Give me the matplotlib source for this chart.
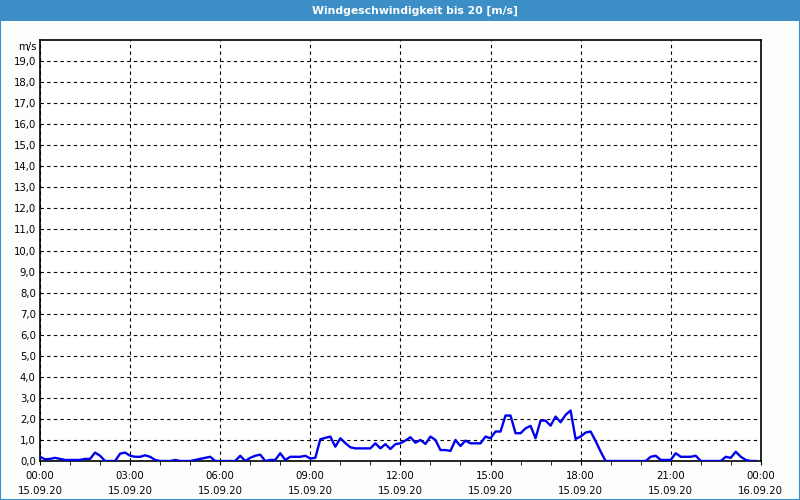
import matplotlib
matplotlib.use("Agg")
import matplotlib.pyplot as plt
import numpy as np
from matplotlib.patches import Rectangle

# wind speed every 10 minutes, 15.09.20 00:00 .. 23:50 (m/s)
wind = [0.2, 0.08, 0.1, 0.15, 0.1, 0.05, 0.05, 0.05, 0.05, 0.1, 0.1, 0.4,
        0.25, 0.0, 0.0, 0.0, 0.35, 0.4, 0.25, 0.2, 0.2, 0.27, 0.2, 0.05,
        0.0, 0.0, 0.0, 0.05, 0.0, 0.0, 0.0, 0.05, 0.1, 0.15, 0.2, 0.0,
        0.0, 0.0, 0.0, 0.0, 0.25, 0.0, 0.15, 0.25, 0.3, 0.0, 0.05, 0.05,
        0.37, 0.05, 0.2, 0.2, 0.2, 0.25, 0.12, 0.15, 1.03, 1.1, 1.16, 0.68,
        1.08, 0.85, 0.65, 0.6, 0.6, 0.6, 0.6, 0.84, 0.6, 0.8, 0.57, 0.8,
        0.84, 0.97, 1.13, 0.87, 1.0, 0.81, 1.16, 1.0, 0.52, 0.52, 0.48, 1.0,
        0.71, 0.97, 0.84, 0.84, 0.84, 1.16, 1.08, 1.4, 1.4, 2.16, 2.16, 1.32,
        1.32, 1.55, 1.67, 1.08, 1.92, 1.92, 1.68, 2.11, 1.84, 2.19, 2.4, 1.05,
        1.16, 1.35, 1.4, 0.95, 0.45, 0.0, 0.0, 0.0, 0.0, 0.0, 0.0, 0.0,
        0.0, 0.0, 0.2, 0.25, 0.05, 0.05, 0.05, 0.37, 0.2, 0.2, 0.2, 0.25,
        0.0, 0.0, 0.0, 0.0, 0.0, 0.2, 0.15, 0.44, 0.2, 0.05, 0.0, 0.0]
hours = np.arange(len(wind)) / 6.0

tick_hours = [0, 3, 6, 9, 12, 15, 18, 21, 24]
tick_labels = ["00:00\n15.09.20", "03:00\n15.09.20", "06:00\n15.09.20",
               "09:00\n15.09.20", "12:00\n15.09.20", "15:00\n15.09.20",
               "18:00\n15.09.20", "21:00\n15.09.20", "00:00\n16.09.20"]
y_ticks = list(range(0, 20))
y_labels = [f"{v},0" for v in y_ticks]

bar_blue = "#3c8fc6"

fig = plt.figure(figsize=(8, 5), dpi=100, facecolor="#fbfefd")

# title bar and window frame
fig.patches.append(Rectangle((0, 0.958), 1, 0.042, transform=fig.transFigure,
                             facecolor=bar_blue, edgecolor="none", zorder=0))
fig.patches.append(Rectangle((0.0006, 0.001), 0.9988, 0.998, transform=fig.transFigure,
                             facecolor="none", edgecolor=bar_blue, linewidth=1.5, zorder=0))
fig.text(0.519, 0.979, "Windgeschwindigkeit bis 20 [m/s]", color="white",
         fontsize=7.8, fontweight="bold", ha="center", va="center")

ax = fig.add_axes([0.05, 0.078, 0.901, 0.842])
ax.set_facecolor("white")
ax.plot(hours, wind, color="#0000ee", linewidth=1.7, zorder=3)

ax.set_xlim(0, 24)
ax.set_ylim(0, 20)
ax.set_xticks(tick_hours)
ax.set_xticklabels(tick_labels, fontsize=7.3, linespacing=1.6)
ax.set_xticks(range(0, 25), minor=True)
ax.set_yticks(y_ticks)
ax.set_yticklabels(y_labels, fontsize=7.3)
ax.tick_params(axis="x", which="both", direction="out", length=3, color="black", pad=4)
ax.tick_params(axis="y", length=0, pad=3)
ax.grid(True, which="major", color="black", linestyle=(0, (3, 3)), linewidth=0.8)
for s in ax.spines.values():
    s.set_color("black")
    s.set_linewidth(1.2)

ax.text(-0.004, 19.65, "m/s", transform=ax.get_yaxis_transform(),
        ha="right", va="center", fontsize=7.3)

plt.savefig("out.png", dpi=100, facecolor=fig.get_facecolor())
